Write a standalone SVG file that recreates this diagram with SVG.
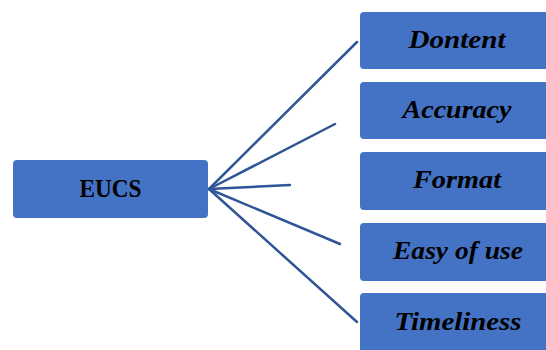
<svg xmlns="http://www.w3.org/2000/svg" width="546" height="350" viewBox="0 0 546 350">
<style>
.box{fill:#4472C4;}
.t{font-family:"Liberation Serif","DejaVu Serif",serif;font-weight:bold;font-size:26px;fill:#000;text-anchor:middle;}
.i{font-style:italic;}
.c line{stroke:#2F5597;stroke-width:2.5;stroke-linecap:round;}
</style>
<rect width="546" height="350" fill="#fff"/>
<g class="c" id="connectors">
<line x1="209" y1="189" x2="357" y2="42"/>
<line x1="209" y1="189" x2="335" y2="124"/>
<line x1="209" y1="189" x2="290" y2="185"/>
<line x1="209" y1="189" x2="340" y2="244"/>
<line x1="209" y1="189" x2="357" y2="322"/>
</g>
<g id="eucs"><rect class="box" x="13" y="160" width="195" height="58" rx="4"/><text class="t" x="110.5" y="197" font-size="25" textLength="62" lengthAdjust="spacingAndGlyphs">EUCS</text></g>
<g id="dontent"><rect class="box" x="360" y="12" width="192" height="57" rx="4"/><text class="t i" x="457" y="48" textLength="97" lengthAdjust="spacingAndGlyphs">Dontent</text></g>
<g id="accuracy"><rect class="box" x="360" y="82" width="192" height="57" rx="4"/><text class="t i" x="457" y="118" textLength="109" lengthAdjust="spacingAndGlyphs">Accuracy</text></g>
<g id="format"><rect class="box" x="360" y="152" width="192" height="58" rx="4"/><text class="t i" x="457" y="188" textLength="88" lengthAdjust="spacingAndGlyphs">Format</text></g>
<g id="easy"><rect class="box" x="360" y="223" width="192" height="58" rx="4"/><text class="t i" x="458" y="259" textLength="130" lengthAdjust="spacingAndGlyphs">Easy of use</text></g>
<g id="timeliness"><rect class="box" x="360" y="293" width="192" height="62" rx="4"/><text class="t i" x="458" y="330" textLength="127" lengthAdjust="spacingAndGlyphs">Timeliness</text></g>
</svg>
